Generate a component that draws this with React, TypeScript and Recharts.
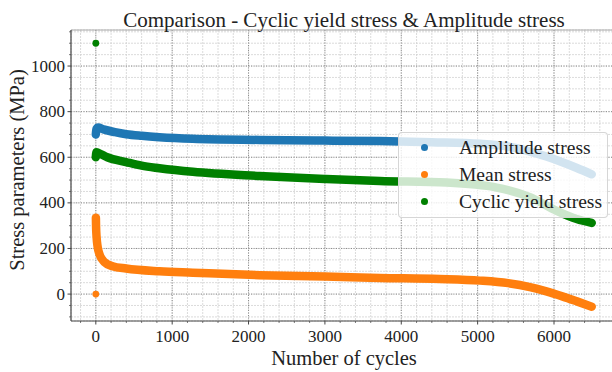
import React from 'react';
import { ComposedChart, Line, Scatter, XAxis, YAxis, CartesianGrid, ReferenceLine } from 'recharts';

// ---- data ----
const amplitudeCycles = [0, 8, 30, 100, 250, 400, 600, 833, 1270, 2144, 3000, 3718, 4400, 5030, 5400, 5685, 5900, 6118, 6300, 6494];
const amplitudeValues = [700, 724, 730, 722, 710, 701, 694, 688, 681, 676, 673, 671, 666, 659, 647, 625, 603, 577, 553, 525];

const meanCycles = [1, 3, 10, 25, 46, 111, 220, 396, 833, 1270, 2144, 3000, 3718, 4500, 5030, 5400, 5685, 5900, 6118, 6300, 6494];
const meanValues = [335, 300, 250, 205, 177, 141, 122, 112, 100, 94, 83, 77, 71, 66, 59, 48, 31, 12, -11, -32, -55];

const yieldCycles = [0, 8, 40, 150, 396, 600, 833, 1270, 2144, 3000, 3718, 4593, 5249, 5685, 6035, 6297, 6494];
const yieldValues = [600, 622, 618, 600, 579, 563, 552, 536, 518, 505, 496, 489, 467, 425, 365, 329, 312];

// isolated first-cycle points
const yieldFirst = [{ x: 0, v: 1100 }];
const meanFirst = [{ x: 0, v: 0 }];

const X_DOMAIN: [number, number] = [-325, 6825];
const Y_DOMAIN: [number, number] = [-118, 1158];
const X_MAJOR = [0, 1000, 2000, 3000, 4000, 5000, 6000];
const Y_MAJOR = [0, 200, 400, 600, 800, 1000];
const X_TICKS: number[] = [];
for (let v = -200; v <= 6800; v += 200) X_TICKS.push(v);
const Y_TICKS: number[] = [];
for (let v = -100; v <= 1150; v += 50) Y_TICKS.push(v);

const SERIES = [
  { name: 'Amplitude stress', color: '#1f77b4' },
  { name: 'Mean stress', color: '#ff7f0e' },
  { name: 'Cyclic yield stress', color: '#008000' },
];

const toPts = (xs: number[], ys: number[]) => xs.map((x, i) => ({ x, v: ys[i] }));
const amplitudeData = toPts(amplitudeCycles, amplitudeValues);
const meanData = toPts(meanCycles, meanValues);
const yieldData = toPts(yieldCycles, yieldValues);

const FONT = "'Liberation Serif', 'Times New Roman', serif";
const txt = (size: number) => ({ fontFamily: FONT, fontSize: size });

const XTick = (props: any) => {
  const { x, y, payload } = props;
  const major = payload.value % 1000 === 0;
  return (
    <g>
      <line x1={x} x2={x} y1={y} y2={y + (major ? 3.5 : 2)} stroke="#444" strokeWidth={major ? 1 : 0.7} />
      {major && (
        <text x={x} y={y + 21} textAnchor="middle" style={txt(17)} fill="#222">
          {payload.value}
        </text>
      )}
    </g>
  );
};

const YTick = (props: any) => {
  const { x, y, payload } = props;
  const major = payload.value % 200 === 0;
  return (
    <g>
      <line x1={x - (major ? 3.5 : 2)} x2={x} y1={y} y2={y} stroke="#444" strokeWidth={major ? 1 : 0.7} />
      {major && (
        <text x={x - 6} y={y + 5.5} textAnchor="end" style={txt(17)} fill="#222">
          {payload.value}
        </text>
      )}
    </g>
  );
};

export default function App() {
  return (
    <div style={{ position: 'absolute', left: 0, top: 0, width: 612, height: 372, overflow: 'hidden', background: '#fff' }}>
      <ComposedChart width={620} height={372} margin={{ top: 30, right: 3, bottom: 0, left: 0 }}>
        <CartesianGrid stroke="#d2d2d2" strokeDasharray="2 1" strokeWidth={0.8} />
        <XAxis
          dataKey="x"
          type="number"
          domain={X_DOMAIN}
          ticks={X_TICKS}
          interval={0}
          allowDataOverflow
          height={51}
          tickSize={0}
          tickMargin={0}
          tick={<XTick />}
          axisLine={{ stroke: '#444', strokeWidth: 1.2 }}
        />
        <YAxis
          dataKey="v"
          type="number"
          domain={Y_DOMAIN}
          ticks={Y_TICKS}
          interval={0}
          allowDataOverflow
          width={71}
          tickSize={0}
          tickMargin={0}
          tick={<YTick />}
          axisLine={{ stroke: '#444', strokeWidth: 1.2 }}
        />
        {X_MAJOR.map((v) => (
          <ReferenceLine key={'vx' + v} x={v} stroke="#808080" strokeDasharray="1 1.5" strokeWidth={0.9} />
        ))}
        {Y_MAJOR.map((v) => (
          <ReferenceLine key={'hy' + v} y={v} stroke="#808080" strokeDasharray="1 1.5" strokeWidth={0.9} />
        ))}
        <ReferenceLine y={Y_DOMAIN[1]} stroke="#aaa" strokeWidth={1} />
        <Line data={amplitudeData} dataKey="v" type="monotone" stroke={SERIES[0].color} strokeWidth={8.5}
          strokeLinecap="round" strokeLinejoin="round" dot={false} isAnimationActive={false} />
        <Line data={meanData} dataKey="v" type="monotone" stroke={SERIES[1].color} strokeWidth={8.5}
          strokeLinecap="round" strokeLinejoin="round" dot={false} isAnimationActive={false} />
        <Line data={yieldData} dataKey="v" type="monotone" stroke={SERIES[2].color} strokeWidth={8.5}
          strokeLinecap="round" strokeLinejoin="round" dot={false} isAnimationActive={false} />
        <Scatter data={yieldFirst} dataKey="v" fill={SERIES[2].color}
          shape={(p: any) => <circle cx={p.cx} cy={p.cy} r={3.4} fill={SERIES[2].color} />} isAnimationActive={false} />
        <Scatter data={meanFirst} dataKey="v" fill={SERIES[1].color}
          shape={(p: any) => <circle cx={p.cx} cy={p.cy} r={3.4} fill={SERIES[1].color} />} isAnimationActive={false} />
      </ComposedChart>

      <svg width={612} height={372} style={{ position: 'absolute', left: 0, top: 0, pointerEvents: 'none' }}>
        <text x={344} y={26.5} textAnchor="middle" style={txt(21)} fill="#222">
          Comparison - Cyclic yield stress &amp; Amplitude stress
        </text>
        <text x={344} y={365} textAnchor="middle" style={txt(20.5)} fill="#222">
          Number of cycles
        </text>
        <text x={17} y={170} textAnchor="middle" dominantBaseline="central" style={txt(20.5)} fill="#222" transform="rotate(-90 17 170)">
          Stress parameters (MPa)
        </text>
      </svg>

      <div style={{
        position: 'absolute', left: 398, top: 132, width: 210, height: 86,
        background: 'rgba(255,255,255,0.8)', border: '1px solid rgba(210,210,210,0.9)', borderRadius: 4,
        boxSizing: 'border-box',
      }}>
        {SERIES.map((s, i) => (
          <div key={s.name} style={{ position: 'absolute', left: 0, top: 1 + i * 27, height: 27, width: '100%' }}>
            <div style={{ position: 'absolute', left: 22, top: 10, width: 7, height: 7, borderRadius: '50%', background: s.color }} />
            <div style={{ position: 'absolute', left: 60, top: 0, lineHeight: '27px', fontFamily: FONT, fontSize: 19.5, color: '#222', whiteSpace: 'nowrap' }}>
              {s.name}
            </div>
          </div>
        ))}
      </div>
    </div>
  );
}
